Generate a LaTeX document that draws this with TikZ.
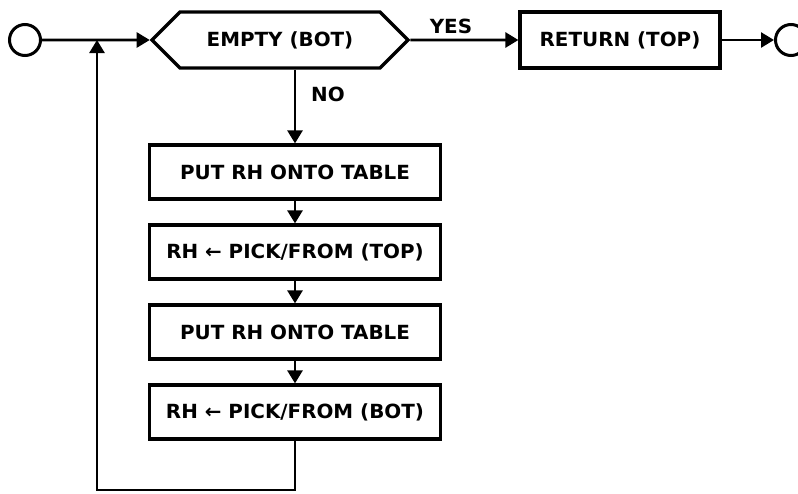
\documentclass[tikz,border=0pt]{standalone}
\usepackage{fontspec}
\newfontfamily\diafont{DejaVu Sans}[FakeStretch=1.02]
\usetikzlibrary{shapes.symbols,arrows.meta}
\begin{document}
\begin{tikzpicture}[x=1pt,y=-1pt,
  every node/.style={font=\diafont\bfseries\fontsize{19.5}{21}\selectfont},
  box/.style={draw, line width=3.2pt, minimum width=291pt, minimum height=54pt, inner sep=0pt},
  hexbox/.style={draw, line width=3.2pt, signal, signal to=west and east, signal pointer angle=90,
                 minimum width=256pt, minimum height=56pt, inner sep=0pt},
  term/.style={draw, circle, line width=3pt, minimum size=31pt, inner sep=0pt},
  conn/.style={line width=2.6pt, -{Triangle[length=13pt,width=15pt]}},
  lbl/.style={inner sep=0pt}
]
\useasboundingbox (0,0) rectangle (798,493);
\node[term] (start) at (25,40) {};
\node[hexbox] (empty) at (280,40) {EMPTY (BOT)};
\node[box, minimum width=200pt, minimum height=56pt] (ret) at (620,40) {RETURN (TOP)};
\node[term] (stop) at (791,40) {};
\node[box] (b1) at (295,172) {PUT RH ONTO TABLE};
\node[box] (b2) at (295,252) {RH ← PICK/FROM (TOP)};
\node[box] (b3) at (295,332) {PUT RH ONTO TABLE};
\node[box] (b4) at (295,412) {RH ← PICK/FROM (BOT)};
\node[lbl] (yes) at (451,26) {YES};
\node[lbl] (no) at (328,94) {NO};
\coordinate (join) at (97,40);
\coordinate (loopc) at (97,490);

\draw[conn] (start) -- (empty);
\draw[conn] (b4.south) |- (loopc) -- (join);
\draw[conn] (empty) -- (ret);
\draw[conn] (ret) -- (stop);
\draw[conn] (b1.north |- empty.south) -- (b1);
\draw[conn] (b1) -- (b2);
\draw[conn] (b2) -- (b3);
\draw[conn] (b3) -- (b4);
\end{tikzpicture}
\end{document}
